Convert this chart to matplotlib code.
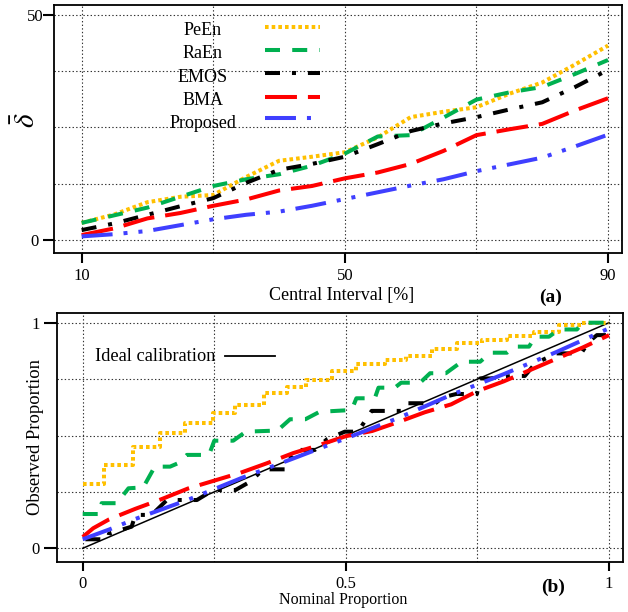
import matplotlib
matplotlib.use("Agg")
import matplotlib.pyplot as plt

plt.rcParams['font.family'] = ['Liberation Serif', 'DejaVu Serif']
plt.rcParams['mathtext.fontset'] = 'stix'
plt.rcParams['lines.scale_dashes'] = False

# ---------------- data: panel (a) ----------------
interval = [10, 15, 20, 25, 30, 35, 40, 45, 50, 55, 60, 65, 70, 75, 80, 85, 90]
peen_a = [3.8, 5.7, 8.4, 9.6, 10.0, 14.0, 17.6, 18.5, 19.5, 22.8, 27.3, 28.5, 29.5, 32.5, 35.0, 39.0, 43.2]
raen_a = [3.8, 5.5, 7.2, 9.6, 12.0, 13.5, 14.6, 16.5, 19.2, 23.0, 23.3, 27.2, 31.2, 32.8, 34.0, 36.9, 40.0]
emos_a = [2.2, 3.7, 5.6, 7.5, 9.3, 12.7, 15.6, 16.9, 18.5, 21.3, 24.2, 25.9, 27.3, 29.0, 30.6, 34.0, 37.8]
bma_a = [1.1, 2.6, 4.8, 6.0, 7.6, 9.0, 11.0, 12.0, 13.7, 15.0, 16.9, 19.8, 23.3, 24.6, 25.8, 28.8, 31.5]
prop_a = [0.8, 1.3, 2.0, 3.3, 4.6, 5.6, 6.3, 7.6, 9.1, 10.6, 12.1, 13.5, 15.3, 16.8, 18.3, 20.8, 23.4]

# ---------------- data: panel (b) ----------------
peen_bx = [0, 0.04, 0.095, 0.146, 0.194, 0.248, 0.29, 0.345, 0.388, 0.424, 0.473, 0.52,
           0.575, 0.614, 0.664, 0.712, 0.758, 0.807, 0.858, 0.905, 0.948, 1.0]
peen_by = [0.285, 0.369, 0.45, 0.513, 0.556, 0.598, 0.637, 0.688, 0.713, 0.748, 0.785, 0.817,
           0.835, 0.854, 0.882, 0.908, 0.925, 0.94, 0.957, 0.99, 1.0, 1.0]

raen_bx = [0, 0.033, 0.036, 0.065, 0.087, 0.115, 0.137, 0.166, 0.181, 0.198, 0.24, 0.25,
           0.286, 0.31, 0.37, 0.394, 0.423, 0.45, 0.511, 0.52, 0.555, 0.562, 0.593, 0.605,
           0.641, 0.66, 0.69, 0.72, 0.755, 0.775, 0.806, 0.82, 0.848, 0.86, 0.886, 0.905,
           0.939, 0.95, 1.0]
raen_by = [0.152, 0.152, 0.2, 0.2, 0.266, 0.27, 0.362, 0.362, 0.377, 0.414, 0.414, 0.477,
           0.477, 0.517, 0.522, 0.572, 0.572, 0.605, 0.613, 0.665, 0.665, 0.712, 0.712, 0.734,
           0.734, 0.776, 0.776, 0.827, 0.827, 0.867, 0.867, 0.894, 0.894, 0.938, 0.938, 0.97,
           0.97, 1.0, 1.0]

emos_bx = [0.005, 0.048, 0.05, 0.093, 0.1, 0.131, 0.16, 0.217, 0.248, 0.29, 0.318, 0.343,
           0.384, 0.403, 0.441, 0.464, 0.498, 0.523, 0.549, 0.606, 0.615, 0.67, 0.685, 0.71,
           0.749, 0.755, 0.775, 0.815, 0.84, 0.86, 0.9, 0.947, 0.962, 0.977, 1.0]
emos_by = [0.04, 0.04, 0.065, 0.096, 0.148, 0.148, 0.214, 0.214, 0.258, 0.258, 0.295, 0.35,
           0.35, 0.436, 0.436, 0.483, 0.517, 0.517, 0.609, 0.609, 0.643, 0.643, 0.67, 0.684,
           0.684, 0.753, 0.753, 0.764, 0.764, 0.82, 0.864, 0.864, 0.916, 0.945, 0.945]

bma_bx = [0, 0.02, 0.05, 0.1, 0.15, 0.2, 0.25, 0.3, 0.35, 0.4, 0.45, 0.5, 0.55, 0.6, 0.65,
          0.7, 0.75, 0.8, 0.85, 0.9, 0.95, 1.0]
bma_by = [0.05, 0.089, 0.128, 0.175, 0.218, 0.265, 0.3, 0.335, 0.377, 0.422, 0.458, 0.497,
          0.52, 0.56, 0.603, 0.638, 0.697, 0.74, 0.79, 0.84, 0.89, 0.945]

prop_bx = [0, 0.05, 0.1, 0.2, 0.3, 0.4, 0.5, 0.6, 0.7, 0.8, 0.9, 1.0]
prop_by = [0.04, 0.083, 0.13, 0.215, 0.31, 0.398, 0.487, 0.578, 0.68, 0.772, 0.87, 0.975]

ideal_x = [0, 1]
ideal_y = [0, 1]

labels = ['PeEn', 'RaEn', 'EMOS', 'BMA', 'Proposed']

# ---------------- styles ----------------
LW = 2.9
styles = {
    'PeEn': dict(color='#FFC000', ls=(0, (2.6, 2.2))),
    'RaEn': dict(color='#00B050', ls=(0, (10.8, 8.8))),
    'EMOS': dict(color='black', ls=(0, (10.8, 8.6, 2.9, 8.6))),
    'BMA': dict(color='#FF0000', ls=(0, (23.0, 7.9))),
    'Proposed': dict(color='#3F3FFF', ls=(0, (22.3, 7.9, 2.9, 7.9, 2.9, 7.9))),
}

W, H = 628, 612
fig = plt.figure(figsize=(W / 100, H / 100), dpi=100)


def ax_rect(l, r, t, b):
    return [l / W, (H - b) / H, (r - l) / W, (b - t) / H]


def style_axes(ax, ylen):
    for s in ax.spines.values():
        s.set_linewidth(1.3)
        s.set_color('black')
    ax.grid(True, which='both', linestyle=(0, (1, 1.6)), color='#333333', linewidth=0.8)
    ax.set_axisbelow(True)
    ax.tick_params(axis='both', which='minor', length=0)
    ax.tick_params(axis='y', which='major', direction='out', length=ylen, width=1.5,
                   labelsize=12, pad=6.0)
    ax.tick_params(axis='x', which='major', direction='out', length=7.0, width=1.5,
                   labelsize=12, pad=3.6)
    for lab in ax.get_yticklabels():
        lab.set_horizontalalignment('center')


# ---------------- panel (a) ----------------
ax1 = fig.add_axes(ax_rect(54.3, 621.7, 5, 253))
series_a = [peen_a, raen_a, emos_a, bma_a, prop_a]
for name, vals in zip(labels, series_a):
    st = styles[name]
    ax1.plot(interval, vals, color=st['color'], linestyle=st['ls'], linewidth=LW,
             dash_capstyle='butt', solid_capstyle='butt', zorder=3)
ax1.set_xlim(5.84, 92.08)
ax1.set_ylim(-2.89, 52.22)
ax1.set_xticks([10, 50, 90])
ax1.set_xticks([30, 70], minor=True)
ax1.set_yticks([0, 50])
ax1.set_yticks([12.5, 25, 37.5], minor=True)
style_axes(ax1, 7.9)
ax1.set_xlabel('Central Interval [%]', fontsize=13)
ax1.xaxis.set_label_coords(0.507, -0.173)
ax1.xaxis.label.set_va('center')
ax1.set_ylabel(r'$\bar{\delta}$', fontsize=21)
ax1.yaxis.set_label_coords(-0.049, 0.536)
ax1.yaxis.label.set_va('center')
ax1.text(0.874, -0.177, '(a)', transform=ax1.transAxes, fontsize=14, fontweight='bold',
         ha='center', va='center')

# manual legend (labels left of samples)
leg_base = [0.879, 0.785, 0.691, 0.597, 0.503]
leg_line = [0.9125, 0.8185, 0.727, 0.630, 0.543]
for name, yb, yl in zip(labels, leg_base, leg_line):
    st = styles[name]
    ax1.text(0.262, yb, name, transform=ax1.transAxes, fontsize=13, ha='center',
             va='baseline')
    ax1.plot([0.371, 0.468], [yl, yl], transform=ax1.transAxes, color=st['color'],
             linestyle=st['ls'], linewidth=LW, dash_capstyle='butt')

# ---------------- panel (b) ----------------
ax2 = fig.add_axes(ax_rect(56.7, 622.7, 313, 561.7))
ax2.plot(ideal_x, ideal_y, color='black', linewidth=1.1, zorder=3)
ax2.plot(peen_bx, peen_by, drawstyle='steps-post', color=styles['PeEn']['color'],
         linestyle=styles['PeEn']['ls'], linewidth=LW, dash_capstyle='butt', zorder=3)
series_b = [(raen_bx, raen_by, 'RaEn'), (emos_bx, emos_by, 'EMOS'),
            (bma_bx, bma_by, 'BMA'), (prop_bx, prop_by, 'Proposed')]
for xs, ys, name in series_b:
    st = styles[name]
    ax2.plot(xs, ys, color=st['color'], linestyle=st['ls'], linewidth=LW,
             dash_capstyle='butt', zorder=3)
ax2.set_xlim(-0.0494, 1.026)
ax2.set_ylim(-0.0594, 1.043)
ax2.set_xticks([0, 0.5, 1])
ax2.set_xticklabels(['0', '0.5', '1'])
ax2.set_xticks([0.25, 0.75], minor=True)
ax2.set_yticks([0, 1])
ax2.set_yticklabels(['0', '1'])
ax2.set_yticks([0.25, 0.5, 0.75], minor=True)
style_axes(ax2, 9.2)
ax2.tick_params(axis='x', which='major', length=6.5, pad=4.0)
ax2.set_xlabel('Nominal Proportion', fontsize=11.5)
ax2.xaxis.set_label_coords(0.506, -0.154)
ax2.xaxis.label.set_va('center')
ax2.set_ylabel('Observed Proportion', fontsize=13.4)
ax2.yaxis.set_label_coords(-0.0383, 0.5)
ax2.yaxis.label.set_va('center')
ax2.text(0.877, -0.102, '(b)', transform=ax2.transAxes, fontsize=14, fontweight='bold',
         ha='center', va='center')
ax2.text(0.0677, 0.808, 'Ideal calibration', transform=ax2.transAxes, fontsize=13.2,
         ha='left', va='baseline')
ax2.plot([0.297, 0.386], [0.827, 0.827], transform=ax2.transAxes, color='black',
         linewidth=1.3)

fig.savefig('out.png', dpi=100)
